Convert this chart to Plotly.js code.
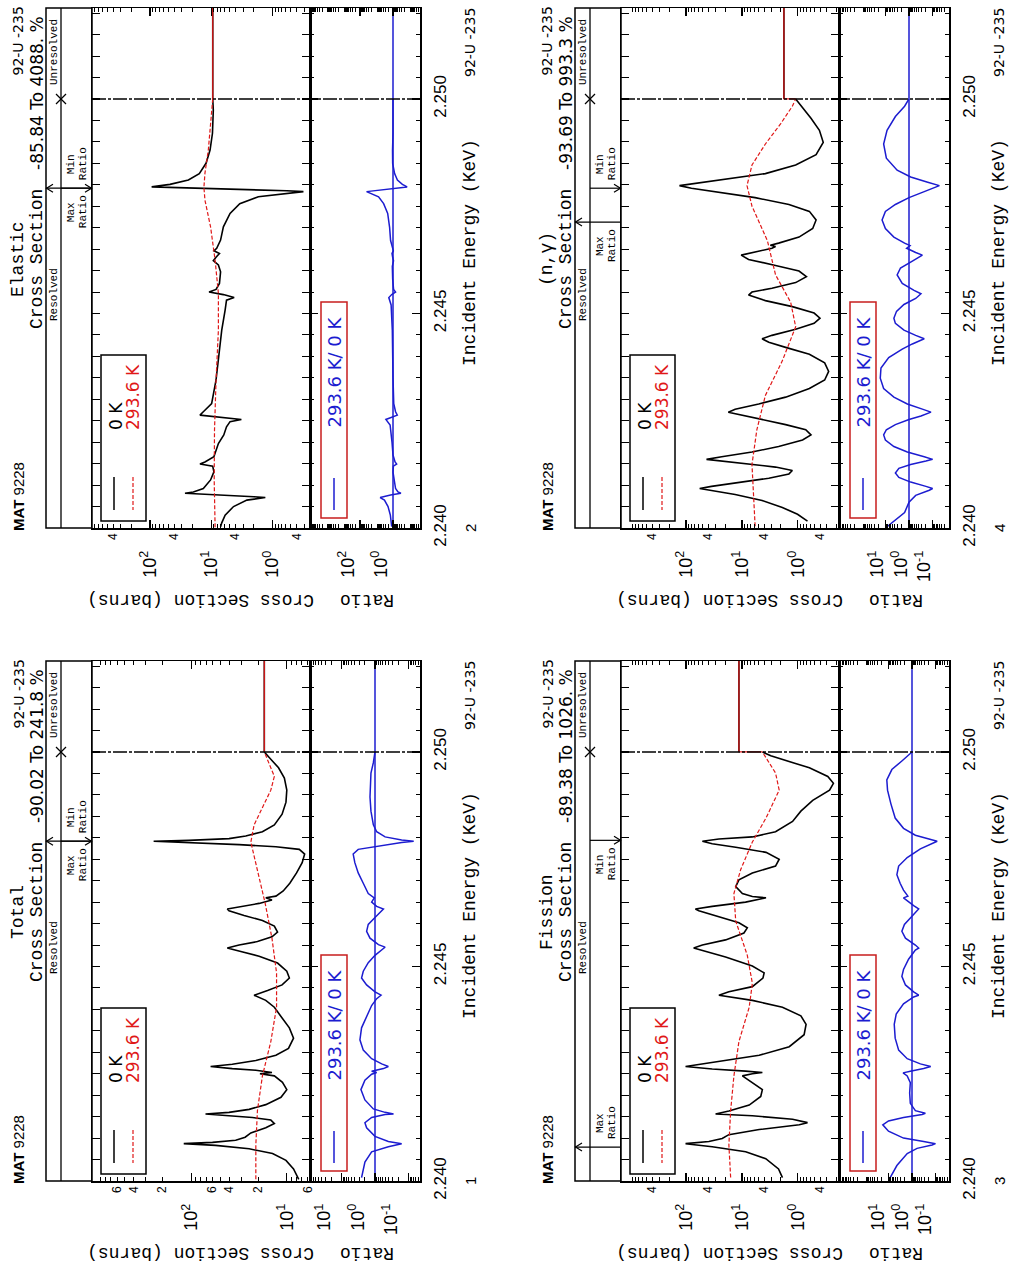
<!DOCTYPE html>
<html><head><meta charset="utf-8">
<script src="https://cdn.plot.ly/plotly-3.0.1.min.js"></script>
<style>html,body{margin:0;padding:0;background:#fff}#chart{width:1014px;height:1268px}</style>
</head><body><div id="chart"></div>
<script>
// ================= DATA (energy in KeV, cross section in barns) =================
const energyRange = [2.240, 2.25212];
const energyTickVals = [2.240, 2.245, 2.250];
const energyTickText = ['2.240', '2.245', '2.250'];
const resolvedEnd = 2.250;
const legendTemps = ['0 K', '293.6 K'];
const ratioLegend = '293.6 K/ 0 K';

// ---- Elastic ----
const elastic0K = [[2.24003,7.0],[2.24012,6.7],[2.2403,5.9],[2.2405,4.3],[2.24065,2.6],[2.24071,1.3],[2.24073,2.0],[2.24077,6.3],[2.24081,26.7],[2.24084,19.5],[2.24092,13.4],[2.24112,10.2],[2.24131,9.0],[2.24144,9.4],[2.24149,15.2],[2.24154,12.6],[2.24166,9.0],[2.24197,7.6],[2.24217,6.2],[2.24236,5.6],[2.24248,4.9],[2.24253,3.2],[2.24259,8.1],[2.24263,15.2],[2.24271,13.4],[2.2429,9.8],[2.24345,8.3],[2.24422,7.3],[2.24461,6.7],[2.24508,5.9],[2.24531,5.6],[2.24537,4.2],[2.24544,6.3],[2.2455,10.8],[2.24556,8.3],[2.2457,7.3],[2.24597,7.0],[2.24613,7.6],[2.24623,9.2],[2.24631,8.3],[2.2464,7.3],[2.24646,9.0],[2.24652,8.1],[2.24671,7.0],[2.24702,6.3],[2.24733,4.9],[2.24756,3.4],[2.24772,1.69],[2.2478,0.58],[2.24784,0.31],[2.24786,0.58],[2.24789,3.4],[2.24792,22],[2.24795,93.6],[2.24801,47],[2.24811,23.5],[2.24826,15.6],[2.2485,12.1],[2.24881,10.4],[2.2492,9.5],[2.24974,9.2],[2.25,9.4]];
const elastic293K = [[2.24002,8.6],[2.24112,8.9],[2.24228,8.8],[2.24345,8.3],[2.24461,7.6],[2.24547,7.6],[2.24624,8.6],[2.24702,10.2],[2.24764,12.6],[2.24794,13.1],[2.24827,12.6],[2.24881,11.1],[2.25,9.4]];
const elasticRatio = [[2.24003,1.2],[2.2403,1.45],[2.2405,2.0],[2.24065,3.3],[2.24071,6],[2.24077,1.4],[2.24081,0.33],[2.24084,0.5],[2.24092,0.7],[2.2411,0.87],[2.2413,1.0],[2.24144,0.95],[2.24149,0.6],[2.24154,0.75],[2.2417,1.0],[2.242,1.15],[2.2424,1.5],[2.24253,2.7],[2.24259,1.1],[2.24263,0.55],[2.24271,0.7],[2.2429,0.9],[2.2435,1.0],[2.2446,1.1],[2.2452,1.3],[2.24537,1.8],[2.24544,1.2],[2.2455,0.7],[2.24556,0.92],[2.2458,1.05],[2.2461,1.1],[2.24623,0.93],[2.24631,1.05],[2.2464,1.15],[2.24646,0.95],[2.24652,1.05],[2.2467,1.4],[2.247,1.6],[2.24733,2.1],[2.24756,3.7],[2.24772,7.5],[2.24784,40],[2.24789,4],[2.24792,0.6],[2.24795,0.14],[2.24801,0.27],[2.24811,0.54],[2.24826,0.8],[2.2485,1.05],[2.2488,1.07],[2.2492,1.0],[2.25,1.0]];
const elasticUnresolved = 9.4;

// ---- Total ----
const total0K = [[2.24004,7.5],[2.24028,8.5],[2.24048,10.2],[2.24064,14.1],[2.24075,24.8],[2.24083,55.7],[2.24087,120],[2.2409,60],[2.24095,34.3],[2.24102,27.3],[2.24112,23.8],[2.24124,16.6],[2.24134,13.5],[2.24142,14.7],[2.24148,22.9],[2.24153,43.7],[2.24156,71],[2.2416,40.3],[2.24167,24.8],[2.24178,16.6],[2.24195,11.5],[2.24213,10.0],[2.2423,11.1],[2.24245,13.5],[2.2425,19.1],[2.24253,14.3],[2.24258,21.1],[2.24262,37.2],[2.24267,62.8],[2.24272,37.2],[2.24281,21.1],[2.24293,13.0],[2.24309,9.6],[2.24333,8.5],[2.24357,9.4],[2.24381,11.3],[2.24405,13.5],[2.24421,16.6],[2.24433,22],[2.24444,15.9],[2.24457,11.2],[2.24473,9.4],[2.24489,10.0],[2.24508,12.5],[2.24524,19.5],[2.24535,30.3],[2.24543,42],[2.2455,31.6],[2.24558,20.3],[2.24569,14.3],[2.2458,12.5],[2.24594,13.5],[2.24607,18],[2.24619,28],[2.2463,40.3],[2.24634,42],[2.24639,31.6],[2.24647,19.5],[2.24655,14.3],[2.2466,16.6],[2.24664,13],[2.24676,10.9],[2.24694,9.3],[2.24718,7.9],[2.24742,6.9],[2.24762,6.5],[2.24773,7.4],[2.24779,13],[2.24784,31.6],[2.24788,90],[2.24792,248],[2.24794,106],[2.24798,40.3],[2.24804,26.9],[2.24814,18],[2.2483,13.5],[2.24855,11.2],[2.24883,10.2],[2.24911,10.0],[2.24939,10.6],[2.24963,12.2],[2.24983,14.7],[2.25,17.2]];
const total293K = [[2.24004,21.1],[2.24084,21.1],[2.24164,20.3],[2.24245,18],[2.24325,14.7],[2.24405,12.8],[2.24485,12.8],[2.24566,14.3],[2.24646,16.8],[2.24726,20.3],[2.2479,23.8],[2.2483,22],[2.2487,18],[2.24911,14.7],[2.24943,13.5],[2.24975,15.3],[2.25,17.2]];
const totalRatio = [[2.24008,2.52],[2.24044,2.0],[2.24068,1.26],[2.2408,0.4],[2.24087,0.16],[2.24092,0.4],[2.24104,1.0],[2.24124,1.78],[2.24136,2.0],[2.24148,1.26],[2.24155,0.5],[2.24156,0.28],[2.2416,0.5],[2.24168,1.12],[2.24189,2.0],[2.24213,2.63],[2.24235,2.0],[2.24249,1.26],[2.24253,0.89],[2.24256,1.26],[2.24262,0.56],[2.24267,0.4],[2.24273,0.63],[2.24285,1.26],[2.24305,2.24],[2.24329,2.82],[2.24357,2.52],[2.24385,1.78],[2.24409,1.26],[2.24425,0.89],[2.24433,0.66],[2.24441,1.0],[2.24457,1.78],[2.24473,2.52],[2.24489,2.24],[2.24509,1.59],[2.24526,1.0],[2.24542,0.56],[2.24545,0.5],[2.24551,0.79],[2.24566,1.41],[2.24582,1.78],[2.24598,1.59],[2.24614,1.0],[2.2463,0.63],[2.24634,0.56],[2.2464,0.89],[2.2465,1.26],[2.2466,1.05],[2.2467,1.59],[2.24694,2.24],[2.24718,3.17],[2.24742,4.0],[2.24762,4.48],[2.24773,3.17],[2.24782,0.63],[2.24789,0.16],[2.24792,0.07],[2.24795,0.16],[2.24802,0.5],[2.24814,0.89],[2.2483,1.12],[2.24862,1.32],[2.24895,1.41],[2.24927,1.38],[2.24951,1.32],[2.24975,1.12],[2.25,1.0]];
const totalUnresolved = 17.2;

// ---- (n,gamma) ----
const capture0K = [[2.24016,0.67],[2.24032,1.01],[2.24048,1.89],[2.24064,4.35],[2.24078,13.2],[2.24088,40],[2.24092,57],[2.24097,35],[2.24107,10],[2.24116,3.3],[2.24126,1.44],[2.24134,1.25],[2.24142,2.5],[2.2415,8.7],[2.24158,35],[2.2416,43],[2.24166,23],[2.24177,6.6],[2.2419,2.2],[2.24205,0.82],[2.24217,0.58],[2.24229,0.72],[2.24241,1.65],[2.24254,5.0],[2.24265,11.5],[2.2427,17.5],[2.24277,13.2],[2.24289,5.0],[2.24305,1.65],[2.24325,0.62],[2.24345,0.33],[2.24365,0.28],[2.24385,0.33],[2.24405,0.62],[2.24421,1.65],[2.24433,3.3],[2.24441,4.35],[2.24449,2.9],[2.24463,1.09],[2.24477,0.51],[2.24489,0.40],[2.24501,0.51],[2.24516,1.25],[2.2453,3.8],[2.24543,7.6],[2.2455,6.6],[2.24559,2.9],[2.24572,1.09],[2.24586,0.70],[2.24599,0.95],[2.24612,2.5],[2.24626,7.6],[2.24636,10.3],[2.24644,5.8],[2.24652,2.9],[2.24656,2.5],[2.24659,3.1],[2.24664,2.2],[2.24678,0.95],[2.24698,0.54],[2.24718,0.47],[2.24738,0.62],[2.24754,1.44],[2.2477,5.8],[2.24784,30],[2.24792,80],[2.24798,131],[2.24803,70],[2.24813,17.5],[2.24826,3.8],[2.24846,1.09],[2.2487,0.47],[2.24899,0.35],[2.24927,0.41],[2.24955,0.58],[2.24979,0.82],[2.25,1.09]];
const capture293K = [[2.24004,5.8],[2.24068,6.2],[2.24148,6.6],[2.24229,5.4],[2.24309,3.8],[2.24389,1.9],[2.24469,1.09],[2.24526,1.34],[2.2459,2.5],[2.2467,3.5],[2.2475,6.6],[2.24798,8.1],[2.24846,6.6],[2.24895,3.8],[2.24943,2.0],[2.24983,1.25],[2.25,1.09]];
const captureRatio = [[2.24,10.1],[2.24016,4.4],[2.24036,1.54],[2.2406,1.0],[2.24076,0.52],[2.24088,0.137],[2.24092,0.099],[2.24097,0.19],[2.24107,0.85],[2.24118,2.7],[2.24128,3.8],[2.24139,2.7],[2.24148,0.85],[2.24156,0.19],[2.2416,0.099],[2.24166,0.225],[2.24177,1.18],[2.2419,4.4],[2.24205,10.1],[2.24217,12],[2.24229,9.2],[2.24241,3.8],[2.24253,1.0],[2.24261,0.31],[2.2427,0.116],[2.24277,0.27],[2.24289,1.18],[2.24305,4.4],[2.24325,12],[2.24349,16.7],[2.24373,15.6],[2.24397,7.3],[2.24417,1.94],[2.24429,0.72],[2.24441,0.225],[2.24449,0.52],[2.24461,1.64],[2.24477,3.8],[2.24489,4.4],[2.24505,3.4],[2.24521,1.64],[2.24535,0.52],[2.24546,0.31],[2.24554,0.61],[2.2457,1.94],[2.2459,3.2],[2.24606,2.3],[2.24622,0.72],[2.24636,0.27],[2.24642,0.52],[2.24652,1.26],[2.24658,0.9],[2.24664,1.54],[2.24678,4.4],[2.24698,10.1],[2.24718,14],[2.24738,10.1],[2.24754,3.8],[2.2477,1.0],[2.24784,0.225],[2.24798,0.051],[2.24806,0.16],[2.24818,0.85],[2.24834,3.2],[2.24862,9.2],[2.24895,12],[2.24927,8.6],[2.24959,3.8],[2.24983,1.54],[2.25,1.0]];
const captureUnresolved = 1.77;

// ---- Fission ----
const fission0K = [[2.24008,1.88],[2.24028,2.21],[2.24052,3.74],[2.24068,8.56],[2.2408,34],[2.24087,102],[2.24092,39],[2.24099,22.5],[2.24108,17.1],[2.2412,4.9],[2.24131,0.94],[2.24136,0.67],[2.24144,1.24],[2.24152,6.5],[2.24156,29.6],[2.24163,17.1],[2.24177,7.4],[2.24197,4.6],[2.24213,4.3],[2.24229,6.5],[2.24245,9.8],[2.2425,6.5],[2.24253,4.3],[2.24256,8.6],[2.24261,34],[2.24267,102],[2.24273,51],[2.24281,17.1],[2.24293,4.9],[2.24313,1.42],[2.24341,0.77],[2.24365,0.71],[2.24385,0.88],[2.24405,1.88],[2.24421,6.5],[2.24433,25.8],[2.24441,17.1],[2.24453,6.5],[2.24473,4.2],[2.24485,4.0],[2.24501,6.5],[2.24522,19.6],[2.24538,51],[2.24543,73],[2.2455,51],[2.24562,19.6],[2.24578,9.2],[2.2459,8.0],[2.24602,11.3],[2.24618,29.6],[2.2463,59],[2.24634,68],[2.2464,34],[2.2465,8.6],[2.24657,4.3],[2.2466,3.7],[2.24663,6.5],[2.2467,9.8],[2.24686,12.9],[2.24702,11.3],[2.24718,6.5],[2.24734,2.5],[2.2475,2.15],[2.24766,3.7],[2.24778,12.9],[2.24786,34],[2.24792,51],[2.24797,25.8],[2.24802,6.5],[2.24814,2.5],[2.24838,1.24],[2.24862,0.88],[2.24887,0.54],[2.24911,0.27],[2.24927,0.23],[2.24943,0.29],[2.24963,0.62],[2.24979,1.63],[2.24991,3.04],[2.25,4.3]];
const fission293K = [[2.24008,15.9],[2.24084,17.1],[2.24164,15.9],[2.24245,13.9],[2.24325,11.3],[2.24405,7.4],[2.24461,6.5],[2.24526,8.0],[2.24606,12.9],[2.2467,13.9],[2.24726,10.5],[2.2479,6.5],[2.24846,3.7],[2.24911,2.15],[2.24951,2.5],[2.24983,3.5],[2.25,4.3]];
const fissionRatio = [[2.24008,8.5],[2.24036,4.4],[2.24064,1.6],[2.24076,0.61],[2.24084,0.14],[2.24087,0.1],[2.24092,0.32],[2.241,2.3],[2.24116,10],[2.24131,17.5],[2.2414,10],[2.24148,2.3],[2.24155,0.37],[2.24158,0.27],[2.24164,0.72],[2.24181,1.18],[2.24205,1.26],[2.24229,1.18],[2.24245,1.6],[2.24252,2.4],[2.24256,1.18],[2.24262,0.32],[2.24267,0.16],[2.24273,0.44],[2.24285,1.6],[2.24305,3.7],[2.24333,5.2],[2.24365,5.7],[2.24389,4.7],[2.24413,2.3],[2.24429,0.85],[2.24433,0.52],[2.24441,0.85],[2.24457,1.9],[2.24477,2.7],[2.24493,2.3],[2.24517,1.4],[2.24538,0.72],[2.24543,0.52],[2.2455,0.72],[2.24566,1.9],[2.24582,2.7],[2.24598,2.1],[2.24618,1.0],[2.24634,0.52],[2.24642,0.85],[2.24654,1.6],[2.2466,2.3],[2.24664,1.5],[2.24678,2.3],[2.24694,3.2],[2.24714,4.4],[2.24734,3.7],[2.24754,1.6],[2.24774,0.44],[2.24786,0.16],[2.24792,0.085],[2.24797,0.19],[2.24806,0.72],[2.24822,2.3],[2.24846,5.2],[2.24879,7.9],[2.24911,11],[2.24935,11.8],[2.24959,7.2],[2.24979,2.7],[2.24995,1.18],[2.25,1.0]];
const fissionUnresolved = 11.3;

// energies marked by the Max Ratio / Min Ratio arrows
const maxRatioE = {elastic:2.24792, total:2.24792, capture:2.24713, fission:2.24079};
const minRatioE = {elastic:2.24792, total:2.24792, capture:2.24792, fission:2.24794};

// ================= LAYOUT HELPERS =================
const W = 1014, H = 1268;
const X = p => p / W;
const Y = p => 1 - p / H;
const ePix = e => 528 - (e - energyRange[0]) / (energyRange[1] - energyRange[0]) * 520;

const BLACK = '#000', RED = '#e01818', BLUE = '#1c1cd0', BOXRED = '#c81e1e';
const SANS = 'Liberation Sans, Arial, sans-serif';
const MONO = 'Liberation Mono, Courier New, monospace';
const DEJ = 'DejaVu Sans, sans-serif';

function decLabel(v){ return '10<sup>' + Math.round(Math.log10(v)) + '</sup>'; }
function logMinor(lo, hi){ const o=[]; for(let d=lo; d<=hi; d++) for(let m=2;m<=9;m++) o.push(m*Math.pow(10,d)); return o; }

const panels = [
 {id:'elastic', ox:0, oy:0, num:'2', t1:'Elastic', t2:'Cross Section', pct:'-85.84 To 4088. %',
  c0:elastic0K, cT:elastic293K, r:elasticRatio, u:elasticUnresolved,
  mainRange:[2.946,-0.616], mainDec:[1,10,100], minorVals:[0.4,4,40,400], minorText:['4','4','4','4'], mLo:-1, mHi:2,
  ratioRange:[5.03,-1.636], ratioDec:[1,100], rLo:-2, rHi:5, rShift:12, maxSide:1, minSide:-1},
 {id:'total', ox:0, oy:653, num:'1', t1:'Total', t2:'Cross Section', pct:'-90.02 To 241.8 %',
  c0:total0K, cT:total293K, r:totalRatio, u:totalUnresolved,
  mainRange:[3.04,0.757], mainDec:[10,100], minorVals:[6,20,40,60,200,400,600], minorText:['6','2','4','6','2','4','6'], mLo:0, mHi:3,
  ratioRange:[1.94,-1.343], ratioDec:[0.1,1,10], rLo:-2, rHi:2, rShift:17, maxSide:1, minSide:-1},
 {id:'capture', ox:529, oy:0, num:'4', t1:'(n,γ)', t2:'Cross Section', pct:'-93.69 To 993.3 %',
  c0:capture0K, cT:capture293K, r:captureRatio, u:captureUnresolved,
  mainRange:[3.164,-0.738], mainDec:[1,10,100], minorVals:[0.4,4,40,400], minorText:['4','4','4','4'], mLo:-1, mHi:3,
  ratioRange:[2.979,-1.702], ratioDec:[0.1,1,10], rLo:-2, rHi:3, rShift:8, maxSide:1, minSide:-1},
 {id:'fission', ox:529, oy:653, num:'3', t1:'Fission', t2:'Cross Section', pct:'-89.38 To 1026. %',
  c0:fission0K, cT:fission293K, r:fissionRatio, u:fissionUnresolved,
  mainRange:[3.164,-0.738], mainDec:[1,10,100], minorVals:[0.4,4,40,400], minorText:['4','4','4','4'], mLo:-1, mHi:3,
  ratioRange:[3.106,-1.574], ratioDec:[0.1,1,10], rLo:-2, rHi:3, rShift:10, maxSide:-1, minSide:1}
];

const traces = [], shapes = [], annotations = [];
const layout = {width:W, height:H, margin:{l:0,r:0,t:0,b:0}, paper_bgcolor:'#fff', plot_bgcolor:'rgba(0,0,0,0)',
  showlegend:false, hovermode:false, font:{family:SANS, color:BLACK}};

const an = (o) => annotations.push(Object.assign({xref:'paper', yref:'paper', xanchor:'center', yanchor:'middle', showarrow:false,
                                                   font:{family:MONO, size:18, color:BLACK}}, o));
const ln = (x0,y0,x1,y1,color,width,dash) => shapes.push({type:'line', xref:'paper', yref:'paper', x0:X(x0), y0:Y(y0), x1:X(x1), y1:Y(y1), line:{color:color||BLACK, width:width||1.5, dash:dash||'solid'}});
const path = (pts,color,width) => shapes.push({type:'path', xref:'paper', yref:'paper', path:'M ' + pts.map(p=>X(p[0])+','+Y(p[1])).join(' L '), line:{color:color||BLACK, width:width||1.3}});

panels.forEach((p, k) => {
  const ox = p.ox, oy = p.oy;
  const xm = 3*k+1, xr = 3*k+2, xl = 3*k+3, ym = 2*k+1, yr = 2*k+2;
  const xn = n => n===1 ? 'x' : 'x'+n, yn = n => n===1 ? 'y' : 'y'+n;
  const xk = n => n===1 ? 'xaxis' : 'xaxis'+n, yk = n => n===1 ? 'yaxis' : 'yaxis'+n;

  const common = {showline:true, linecolor:BLACK, linewidth:1.5, mirror:'allticks', ticks:'inside', tickcolor:BLACK, tickwidth:1.2,
                  showgrid:false, zeroline:false, fixedrange:true};
  layout[xk(xm)] = Object.assign({}, common, {type:'log', autorange:false, range:p.mainRange, domain:[X(ox+92), X(ox+310)], anchor:yn(ym),
     ticklen:8, tickmode:'array', tickvals:p.mainDec, ticktext:p.mainDec.map(decLabel), tickangle:-90,
     tickfont:{family:SANS, size:18, color:BLACK}, ticklabelstandoff:14,
     minor:{tickmode:'array', tickvals:logMinor(p.mLo,p.mHi), ticks:'inside', ticklen:4, tickcolor:BLACK, tickwidth:1}});
  layout[xk(xl)] = {type:'log', autorange:false, range:p.mainRange, overlaying:xn(xm), anchor:yn(ym), side:'bottom', showline:false, ticks:'',
     tickmode:'array', tickvals:p.minorVals, ticktext:p.minorText, tickangle:-90, tickfont:{family:SANS, size:12, color:BLACK},
     ticklabelstandoff:2, showgrid:false, zeroline:false, fixedrange:true};
  layout[xk(xr)] = Object.assign({}, common, {type:'log', autorange:false, range:p.ratioRange, domain:[X(ox+310), X(ox+420)], anchor:yn(yr),
     ticklen:8, tickmode:'array', tickvals:p.ratioDec, ticktext:p.ratioDec.map(decLabel), tickangle:-90,
     tickfont:{family:SANS, size:18, color:BLACK}, ticklabelstandoff:14, ticklabelshift:p.rShift,
     minor:{tickmode:'array', tickvals:logMinor(p.rLo,p.rHi), ticks:'inside', ticklen:4, tickcolor:BLACK, tickwidth:1}});
  const ycommon = Object.assign({}, common, {range:energyRange, autorange:false, domain:[Y(oy+528), Y(oy+8)], ticklen:8,
     tickmode:'array', tickvals:energyTickVals, ticktext:energyTickText,
     minor:{tick0:2.240, dtick:0.0005, ticks:'inside', ticklen:4, tickcolor:BLACK, tickwidth:1}});
  layout[yk(ym)] = Object.assign({}, ycommon, {anchor:xn(xm), showticklabels:false});
  layout[yk(yr)] = Object.assign({}, ycommon, {anchor:xn(xr), side:'right', showticklabels:true, tickangle:-90,
     tickfont:{family:SANS, size:17, color:BLACK}, ticklabelstandoff:4});

  const E = a => a.map(d=>d[0]), V = a => a.map(d=>d[1]);
  const lastRed = p.cT[p.cT.length-1][1];
  traces.push({x:V(p.c0), y:E(p.c0), xaxis:xn(xm), yaxis:yn(ym), mode:'lines', line:{color:BLACK, width:1.6}, hoverinfo:'skip'});
  traces.push({x:[p.u, p.u], y:[resolvedEnd, energyRange[1]], xaxis:xn(xm), yaxis:yn(ym), mode:'lines', line:{color:BLACK, width:1.6}, hoverinfo:'skip'});
  traces.push({x:V(p.cT), y:E(p.cT), xaxis:xn(xm), yaxis:yn(ym), mode:'lines', line:{color:RED, width:1.2, dash:'4px,2px'}, hoverinfo:'skip'});
  traces.push({x:[lastRed, p.u, p.u], y:[resolvedEnd, resolvedEnd, energyRange[1]], xaxis:xn(xm), yaxis:yn(ym), mode:'lines', line:{color:RED, width:1.2}, hoverinfo:'skip'});
  traces.push({x:[null], y:[null], xaxis:xn(xl), yaxis:yn(ym), mode:'lines', hoverinfo:'skip'});
  traces.push({x:[1, 1], y:energyRange, xaxis:xn(xr), yaxis:yn(yr), mode:'lines', line:{color:BLUE, width:1.5}, hoverinfo:'skip'});
  traces.push({x:V(p.r), y:E(p.r), xaxis:xn(xr), yaxis:yn(yr), mode:'lines', line:{color:BLUE, width:1.5}, hoverinfo:'skip'});

  // resolved / unresolved boundary
  shapes.push({type:'line', xref:'paper', yref:yn(ym), x0:X(ox+92), x1:X(ox+420), y0:resolvedEnd, y1:resolvedEnd,
               line:{color:BLACK, width:1.5, dash:'14px,2px,3px,2px'}});
  // header strip
  shapes.push({type:'rect', xref:'paper', yref:'paper', x0:X(ox+46), x1:X(ox+92), y0:Y(oy+528), y1:Y(oy+8), line:{color:BLACK, width:1.5}});
  ln(ox+61, oy+8, ox+61, oy+528, BLACK, 1.3);
  const yb = oy + ePix(resolvedEnd);
  ln(ox+56, yb-5, ox+66, yb+5, BLACK, 1.3); ln(ox+56, yb+5, ox+66, yb-5, BLACK, 1.3);
  an({x:X(ox+54), y:Y(oy+52), text:'Unresolved', textangle:-90, font:{family:MONO, size:11, color:BLACK}});
  an({x:X(ox+54), y:Y(oy+295), text:'Resolved', textangle:-90, font:{family:MONO, size:11, color:BLACK}});
  // max / min ratio arrows
  const yM = oy + ePix(maxRatioE[p.id]), ym2 = oy + ePix(minRatioE[p.id]);
  ln(ox+46, yM, ox+92, yM, BLACK, 1.2);
  path([[ox+53, yM-4],[ox+46.5, yM],[ox+53, yM+4]], BLACK, 1.2);
  ln(ox+61, ym2, ox+92, ym2, BLACK, 1.2);
  path([[ox+85, ym2-4],[ox+91.5, ym2],[ox+85, ym2+4]], BLACK, 1.2);
  const small = {family:MONO, size:11, color:BLACK};
  an({x:X(ox+71), y:Y(yM + p.maxSide*24), text:'Max', textangle:-90, font:small});
  an({x:X(ox+83), y:Y(yM + p.maxSide*24), text:'Ratio', textangle:-90, font:small});
  an({x:X(ox+71), y:Y(ym2 + p.minSide*24), text:'Min', textangle:-90, font:small});
  an({x:X(ox+83), y:Y(ym2 + p.minSide*24), text:'Ratio', textangle:-90, font:small});

  // header texts (left column)
  an({x:X(ox+18), y:Y(oy+497), text:'<b>MAT</b> 9228', textangle:-90, font:{family:SANS, size:15, color:BLACK}});
  an({x:X(ox+18), y:Y(oy+259), text:p.t1, textangle:-90});
  an({x:X(ox+37), y:Y(oy+259), text:p.t2, textangle:-90});
  an({x:X(ox+18), y:Y(oy+5), yanchor:'top', text:'92-U -235', textangle:-90, font:{family:DEJ, size:14, color:BLACK}});
  an({x:X(ox+37), y:Y(oy+14), yanchor:'top', text:p.pct, textangle:-90, font:{family:DEJ, size:17, color:BLACK}});

  // right column
  an({x:X(ox+470), y:Y(oy+253), text:'Incident Energy (KeV)', textangle:-90});
  an({x:X(ox+470), y:Y(oy+43), text:'92-U -235', textangle:-90, font:{family:DEJ, size:14, color:BLACK}});
  an({x:X(ox+470), y:Y(oy+528), text:p.num, textangle:-90, font:{family:SANS, size:15, color:BLACK}});

  // bottom axis titles (upside down)
  an({x:X(ox+201), y:Y(oy+600), text:'Cross Section (barns)', textangle:180});
  an({x:X(ox+367), y:Y(oy+600), text:'Ratio', textangle:180});

  // legend (main)
  shapes.push({type:'rect', xref:'paper', yref:'paper', x0:X(ox+101), x1:X(ox+146), y0:Y(oy+521), y1:Y(oy+355), line:{color:BLACK, width:1.5}});
  ln(ox+114, oy+477, ox+114, oy+510, BLACK, 1.5);
  ln(ox+133, oy+477, ox+133, oy+510, RED, 1.2, '4px,2px');
  an({x:X(ox+116), y:Y(oy+432), yanchor:'bottom', text:legendTemps[0], textangle:-90, font:{family:DEJ, size:17, color:BLACK}});
  an({x:X(ox+133), y:Y(oy+432), yanchor:'bottom', text:legendTemps[1], textangle:-90, font:{family:DEJ, size:17, color:RED}});
  // legend (ratio)
  shapes.push({type:'rect', xref:'paper', yref:'paper', x0:X(ox+321), x1:X(ox+347), y0:Y(oy+518), y1:Y(oy+302), line:{color:BOXRED, width:1.5}});
  ln(ox+334, oy+478, ox+334, oy+510, BLUE, 1.5);
  an({x:X(ox+334), y:Y(oy+430), yanchor:'bottom', text:ratioLegend, textangle:-90, font:{family:DEJ, size:18, color:BLUE}});
});

layout.shapes = shapes;
layout.annotations = annotations;
Plotly.newPlot('chart', traces, layout, {staticPlot:true, displayModeBar:false});
</script></body></html>
